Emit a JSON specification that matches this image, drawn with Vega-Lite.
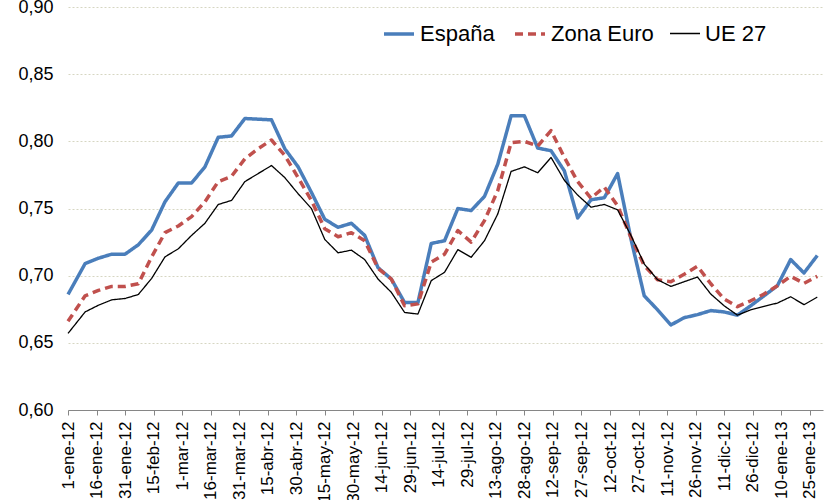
{
  "$schema": "https://vega.github.io/schema/vega-lite/v6.json",
  "width": 755,
  "height": 403,
  "autosize": "none",
  "padding": {"left": 68, "top": 7, "right": 5, "bottom": 90},
  "background": "white",
  "config": {
    "view": {"stroke": null},
    "font": "Liberation Sans",
    "legend": {
      "orient": "none",
      "legendX": 314,
      "legendY": 10,
      "direction": "horizontal",
      "labelFont": "Liberation Sans",
      "labelFontSize": 22,
      "labelColor": "#000000",
      "symbolType": "stroke",
      "symbolSize": 900,
      "labelOffset": 4,
      "columnPadding": 13,
      "padding": 0
    }
  },
  "data": {
    "values": [
      {"fecha": "2012-01-01", "España": 0.686, "Zona Euro": 0.666, "UE 27": 0.657},
      {"fecha": "2012-01-10", "España": 0.709, "Zona Euro": 0.685, "UE 27": 0.673},
      {"fecha": "2012-01-17", "España": 0.713, "Zona Euro": 0.689, "UE 27": 0.678},
      {"fecha": "2012-01-24", "España": 0.716, "Zona Euro": 0.692, "UE 27": 0.682},
      {"fecha": "2012-01-31", "España": 0.716, "Zona Euro": 0.692, "UE 27": 0.683},
      {"fecha": "2012-02-07", "España": 0.723, "Zona Euro": 0.694, "UE 27": 0.686},
      {"fecha": "2012-02-14", "España": 0.734, "Zona Euro": 0.714, "UE 27": 0.698},
      {"fecha": "2012-02-21", "España": 0.755, "Zona Euro": 0.732, "UE 27": 0.714},
      {"fecha": "2012-02-28", "España": 0.769, "Zona Euro": 0.737, "UE 27": 0.720},
      {"fecha": "2012-03-06", "España": 0.769, "Zona Euro": 0.744, "UE 27": 0.730},
      {"fecha": "2012-03-13", "España": 0.781, "Zona Euro": 0.755, "UE 27": 0.739},
      {"fecha": "2012-03-20", "España": 0.803, "Zona Euro": 0.770, "UE 27": 0.753},
      {"fecha": "2012-03-27", "España": 0.804, "Zona Euro": 0.774, "UE 27": 0.756},
      {"fecha": "2012-04-03", "España": 0.817, "Zona Euro": 0.787, "UE 27": 0.770},
      {"fecha": "2012-04-10", "España": 0.8165, "Zona Euro": 0.7945, "UE 27": 0.776},
      {"fecha": "2012-04-17", "España": 0.816, "Zona Euro": 0.801, "UE 27": 0.782},
      {"fecha": "2012-04-24", "España": 0.7945, "Zona Euro": 0.7895, "UE 27": 0.773},
      {"fecha": "2012-05-01", "España": 0.781, "Zona Euro": 0.773, "UE 27": 0.761},
      {"fecha": "2012-05-08", "España": 0.762, "Zona Euro": 0.756, "UE 27": 0.750},
      {"fecha": "2012-05-15", "España": 0.742, "Zona Euro": 0.735, "UE 27": 0.727},
      {"fecha": "2012-05-22", "España": 0.736, "Zona Euro": 0.729, "UE 27": 0.717},
      {"fecha": "2012-05-29", "España": 0.739, "Zona Euro": 0.732, "UE 27": 0.719},
      {"fecha": "2012-06-05", "España": 0.730, "Zona Euro": 0.726, "UE 27": 0.712},
      {"fecha": "2012-06-12", "España": 0.706, "Zona Euro": 0.7055, "UE 27": 0.6975},
      {"fecha": "2012-06-19", "España": 0.6975, "Zona Euro": 0.6975, "UE 27": 0.6876},
      {"fecha": "2012-06-26", "España": 0.680, "Zona Euro": 0.6776, "UE 27": 0.6726},
      {"fecha": "2012-07-03", "España": 0.680, "Zona Euro": 0.679, "UE 27": 0.6714},
      {"fecha": "2012-07-10", "España": 0.724, "Zona Euro": 0.710, "UE 27": 0.6963},
      {"fecha": "2012-07-17", "España": 0.726, "Zona Euro": 0.716, "UE 27": 0.7025},
      {"fecha": "2012-07-24", "España": 0.750, "Zona Euro": 0.7336, "UE 27": 0.7194},
      {"fecha": "2012-07-31", "España": 0.7485, "Zona Euro": 0.725, "UE 27": 0.7137},
      {"fecha": "2012-08-07", "España": 0.759, "Zona Euro": 0.741, "UE 27": 0.726},
      {"fecha": "2012-08-14", "España": 0.783, "Zona Euro": 0.7634, "UE 27": 0.746},
      {"fecha": "2012-08-21", "España": 0.819, "Zona Euro": 0.799, "UE 27": 0.7776},
      {"fecha": "2012-08-28", "España": 0.819, "Zona Euro": 0.800, "UE 27": 0.781},
      {"fecha": "2012-09-04", "España": 0.795, "Zona Euro": 0.7965, "UE 27": 0.7766},
      {"fecha": "2012-09-11", "España": 0.793, "Zona Euro": 0.808, "UE 27": 0.788},
      {"fecha": "2012-09-18", "España": 0.778, "Zona Euro": 0.788, "UE 27": 0.771},
      {"fecha": "2012-09-25", "España": 0.743, "Zona Euro": 0.770, "UE 27": 0.760},
      {"fecha": "2012-10-02", "España": 0.7565, "Zona Euro": 0.7577, "UE 27": 0.751},
      {"fecha": "2012-10-09", "España": 0.758, "Zona Euro": 0.766, "UE 27": 0.753},
      {"fecha": "2012-10-16", "España": 0.776, "Zona Euro": 0.752, "UE 27": 0.749},
      {"fecha": "2012-10-23", "España": 0.7274, "Zona Euro": 0.7286, "UE 27": 0.730},
      {"fecha": "2012-10-30", "España": 0.685, "Zona Euro": 0.7075, "UE 27": 0.7087},
      {"fecha": "2012-11-06", "España": 0.6746, "Zona Euro": 0.697, "UE 27": 0.697},
      {"fecha": "2012-11-13", "España": 0.6633, "Zona Euro": 0.6955, "UE 27": 0.692},
      {"fecha": "2012-11-20", "España": 0.6687, "Zona Euro": 0.701, "UE 27": 0.6955},
      {"fecha": "2012-11-27", "España": 0.671, "Zona Euro": 0.707, "UE 27": 0.699},
      {"fecha": "2012-12-04", "España": 0.674, "Zona Euro": 0.694, "UE 27": 0.6863},
      {"fecha": "2012-12-11", "España": 0.673, "Zona Euro": 0.6826, "UE 27": 0.6776},
      {"fecha": "2012-12-18", "España": 0.6706, "Zona Euro": 0.6769, "UE 27": 0.6706},
      {"fecha": "2012-12-25", "España": 0.6776, "Zona Euro": 0.6813, "UE 27": 0.6746},
      {"fecha": "2013-01-01", "España": 0.685, "Zona Euro": 0.6863, "UE 27": 0.6771},
      {"fecha": "2013-01-08", "España": 0.6925, "Zona Euro": 0.6925, "UE 27": 0.6796},
      {"fecha": "2013-01-15", "España": 0.712, "Zona Euro": 0.6995, "UE 27": 0.6843},
      {"fecha": "2013-01-22", "España": 0.702, "Zona Euro": 0.6943, "UE 27": 0.6784},
      {"fecha": "2013-01-29", "España": 0.715, "Zona Euro": 0.6995, "UE 27": 0.684}
    ]
  },
  "transform": [
    {"fold": ["España", "Zona Euro", "UE 27"], "as": ["serie", "valor"]}
  ],
  "mark": {"type": "line", "strokeJoin": "round"},
  "encoding": {
    "x": {
      "field": "fecha",
      "type": "temporal",
      "scale": {"type": "utc", "domain": [1325376000000, 1359676800000]},
      "axis": {
        "title": null,
        "grid": false,
        "values": [1325376000000, 1326672000000, 1327968000000, 1329264000000, 1330560000000, 1331856000000, 1333152000000, 1334448000000, 1335744000000, 1337040000000, 1338336000000, 1339632000000, 1340928000000, 1342224000000, 1343520000000, 1344816000000, 1346112000000, 1347408000000, 1348704000000, 1350000000000, 1351296000000, 1352592000000, 1353888000000, 1355184000000, 1356480000000, 1357776000000, 1359072000000],
        "labelExpr": "utcdate(datum.value) + '-' + ['ene','feb','mar','abr','may','jun','jul','ago','sep','oct','nov','dic'][utcmonth(datum.value)] + '-' + utcFormat(datum.value, '%y')",
        "labelAngle": -90,
        "labelAlign": "right",
        "labelBaseline": "middle",
        "labelFontSize": 17,
        "labelColor": "#000000",
        "labelFont": "Liberation Sans",
        "labelPadding": 6,
        "labelOverlap": false,
        "labelBound": false,
        "labelFlush": false,
        "domainColor": "#868686",
        "domainWidth": 1,
        "tickColor": "#868686",
        "tickSize": 5
      }
    },
    "y": {
      "field": "valor",
      "type": "quantitative",
      "scale": {"domain": [0.6, 0.9], "zero": false, "nice": false},
      "axis": {
        "title": null,
        "values": [0.6, 0.65, 0.7, 0.75, 0.8, 0.85, 0.9],
        "labelExpr": "replace(format(datum.value, '.2f'), '.', ',')",
        "labelFontSize": 18,
        "labelColor": "#000000",
        "labelFont": "Liberation Sans",
        "labelPadding": 15,
        "domain": false,
        "ticks": false,
        "gridColor": "#d6d6c2",
        "gridDash": [2, 2],
        "gridWidth": 1
      }
    },
    "color": {
      "field": "serie",
      "type": "nominal",
      "scale": {"domain": ["España", "Zona Euro", "UE 27"], "range": ["#4A7EBB", "#C0504D", "#000000"]},
      "legend": {"title": null}
    },
    "strokeDash": {
      "field": "serie",
      "type": "nominal",
      "scale": {"domain": ["España", "Zona Euro", "UE 27"], "range": [[1, 0], [8, 5], [1, 0]]},
      "legend": {"title": null}
    },
    "strokeWidth": {
      "field": "serie",
      "type": "nominal",
      "scale": {"type": "ordinal", "domain": ["España", "Zona Euro", "UE 27"], "range": [3.5, 3.5, 1.3]},
      "legend": {"title": null}
    }
  }
}
